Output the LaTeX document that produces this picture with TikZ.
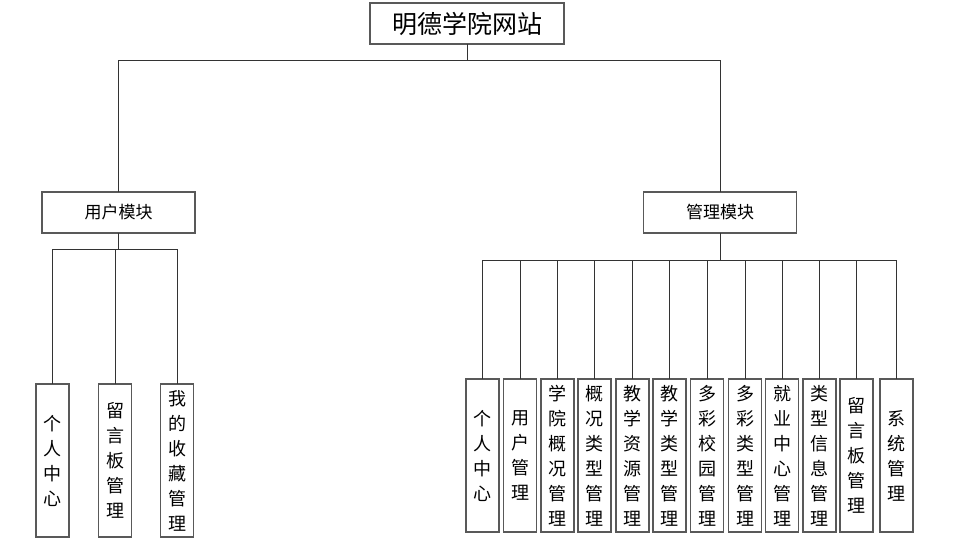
\documentclass[tikz,border=0pt]{standalone}
\usepackage{fontspec}
\newfontfamily\cjk{Noto Sans CJK SC}
\begin{document}
\begin{tikzpicture}[x=1pt,y=-1pt,
  box/.style={draw=black!65,line width=1.1pt,fill=white,inner sep=0pt,outer sep=0pt},
  rootbox/.style={box,minimum width=194pt,minimum height=41pt,font=\cjk\fontsize{25}{28}\selectfont},
  modbox/.style={box,minimum width=153pt,minimum height=41pt,font=\cjk\fontsize{17}{20}\selectfont},
  leaf/.style={box,minimum width=33pt,minimum height=153pt,align=center,font=\cjk\fontsize{18}{25}\selectfont},
  link/.style={draw=black!80,line width=0.9pt}]
\useasboundingbox (0,0) rectangle (961,549);
\node[rootbox] (root) at (467,23.5) {明德学院网站};
\node[modbox] (user) at (118.5,212.5) {用户模块};
\node[modbox] (mgmt) at (720,212.5) {管理模块};
\coordinate (bus0) at (0,60);
\coordinate (bus1) at (0,249);
\coordinate (bus2) at (0,260);
% left leaves
\node[leaf] (u1) at (52.5,460.5) {个\\人\\中\\心};
\node[leaf] (u2) at (115,460.5) {留\\言\\板\\管\\理};
\node[leaf] (u3) at (177,460.5) {我\\的\\收\\藏\\管\\理};
% right leaves
\node[leaf] (m1) at (482.5,455.5) {个\\人\\中\\心};
\node[leaf] (m2) at (520,455.5) {用\\户\\管\\理};
\node[leaf] (m3) at (557.5,455.5) {学\\院\\概\\况\\管\\理};
\node[leaf] (m4) at (594.5,455.5) {概\\况\\类\\型\\管\\理};
\node[leaf] (m5) at (632.5,455.5) {教\\学\\资\\源\\管\\理};
\node[leaf] (m6) at (669.5,455.5) {教\\学\\类\\型\\管\\理};
\node[leaf] (m7) at (707,455.5) {多\\彩\\校\\园\\管\\理};
\node[leaf] (m8) at (745,455.5) {多\\彩\\类\\型\\管\\理};
\node[leaf] (m9) at (782,455.5) {就\\业\\中\\心\\管\\理};
\node[leaf] (m10) at (819.5,455.5) {类\\型\\信\\息\\管\\理};
\node[leaf] (m11) at (856.5,455.5) {留\\言\\板\\管\\理};
\node[leaf] (m12) at (896.5,455.5) {系\\统\\管\\理};
% connectors
\draw[link] (root.south) -- (root.south |- bus0) -| (user.north);
\draw[link] (root.south) -- (root.south |- bus0) -| (mgmt.north);
\foreach \k in {u1,u2,u3}
  \draw[link] (user.south) -- (user.south |- bus1) -| (\k.north);
\foreach \k in {m1,m2,m3,m4,m5,m6,m7,m8,m9,m10,m11,m12}
  \draw[link] (mgmt.south) -- (mgmt.south |- bus2) -| (\k.north);
\end{tikzpicture}
\end{document}
